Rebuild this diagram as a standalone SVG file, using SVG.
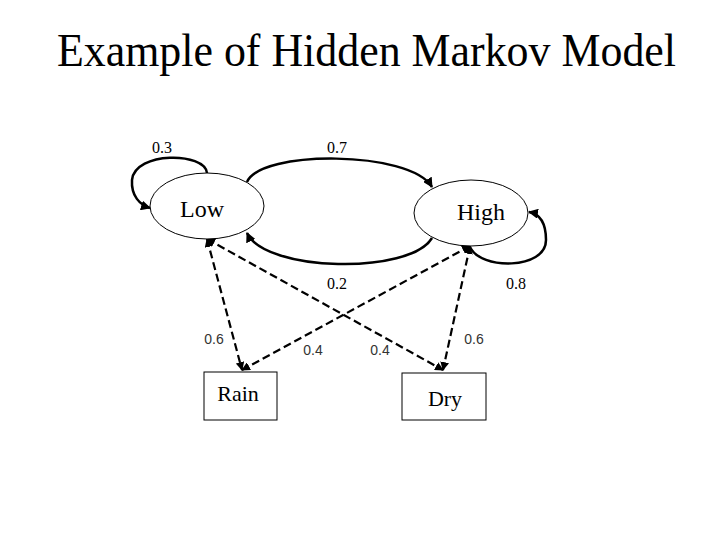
<svg xmlns="http://www.w3.org/2000/svg" width="720" height="540" viewBox="0 0 720 540">
<defs>
<marker id="ah" viewBox="0 0 10 10" refX="9" refY="5" markerWidth="4" markerHeight="4" orient="auto" markerUnits="strokeWidth">
<path d="M0,0 L10,5 L0,10 z" fill="#000"/>
</marker>
<marker id="as" viewBox="0 0 10 10" refX="1" refY="5" markerWidth="4" markerHeight="4" orient="auto" markerUnits="strokeWidth">
<path d="M10,0 L0,5 L10,10 z" fill="#000"/>
</marker>
<style>
.serif{font-family:"Liberation Serif","Times New Roman",serif;fill:#000}
.sans{font-family:"Liberation Sans",Arial,sans-serif;fill:#333;font-size:14px}
.node{fill:#fff;stroke:#000;stroke-width:1}
.solid{fill:none;stroke:#000;stroke-width:2.5;marker-end:url(#ah)}
.dash{fill:none;stroke:#000;stroke-width:2.2;stroke-dasharray:8,4;marker-end:url(#ah);marker-start:url(#as)}
</style>
</defs>
<rect width="720" height="540" fill="#fff"/>
<text class="serif" x="366.5" y="66" font-size="46" text-anchor="middle" textLength="619" lengthAdjust="spacingAndGlyphs">Example of Hidden Markov Model</text>
<g id="connectors">
<path class="solid" d="M207,173 C205,152 135,151 132,180 C131,196 140,205 150,208"/>
<path class="solid" d="M247,182 C260,150 410,150 432,187"/>
<path class="solid" d="M432,238 C410,275 265,272 247,233"/>
<path class="solid" d="M470,247 C480,270 546,270 546,240 C546,222 540,214 529,212"/>
<path class="dash" d="M207,239 L242,370"/>
<path class="dash" d="M207,239 L443,370"/>
<path class="dash" d="M470,246 L242,370"/>
<path class="dash" d="M470,246 L443,370"/>
</g>
<g id="low"><ellipse class="node" cx="207" cy="206" rx="57" ry="33"/><text class="serif" x="202" y="217" font-size="24" text-anchor="middle">Low</text></g>
<g id="high"><ellipse class="node" cx="471" cy="213" rx="57" ry="33"/><text class="serif" x="481" y="220" font-size="24" text-anchor="middle">High</text></g>
<g id="rain"><rect class="node" x="204" y="372" width="73" height="48"/><text class="serif" x="238" y="401" font-size="22" text-anchor="middle">Rain</text></g>
<g id="dry"><rect class="node" x="402" y="373" width="84" height="47"/><text class="serif" x="445" y="406" font-size="22" text-anchor="middle">Dry</text></g>
<g id="labels">
<text class="serif" x="162" y="153" font-size="16" text-anchor="middle">0.3</text>
<text class="serif" x="337" y="153" font-size="16" text-anchor="middle">0.7</text>
<text class="serif" x="337" y="289" font-size="16" text-anchor="middle">0.2</text>
<text class="serif" x="516" y="289" font-size="16" text-anchor="middle">0.8</text>
<text class="sans" x="214" y="344" text-anchor="middle">0.6</text>
<text class="sans" x="313" y="355" text-anchor="middle">0.4</text>
<text class="sans" x="380" y="355" text-anchor="middle">0.4</text>
<text class="sans" x="474" y="344" text-anchor="middle">0.6</text>
</g>
</svg>
